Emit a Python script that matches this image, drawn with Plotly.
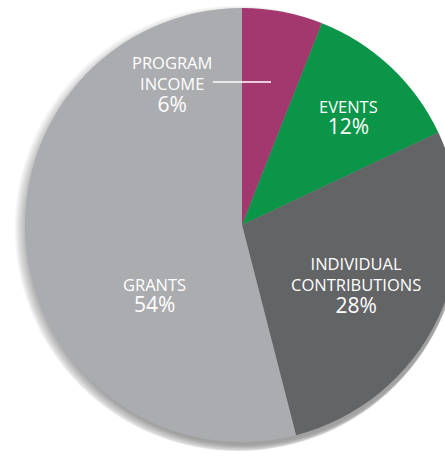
import plotly.graph_objects as go

labels = ["PROGRAM INCOME", "EVENTS", "INDIVIDUAL CONTRIBUTIONS", "GRANTS"]
values = [6, 12, 28, 54]
colors = ["#A3386F", "#0A9548", "#636466", "#ABACAF"]
label_text = ["PROGRAM<br>INCOME", "EVENTS", "INDIVIDUAL<br>CONTRIBUTIONS", "GRANTS"]
pct_text = ["6%", "12%", "28%", "54%"]

W, H = 460, 456
CX, CY, R = 242, 225, 217

def dom(cx, cy, r):
    return dict(x=[max(0, (cx - r) / W), min(1, (cx + r) / W)],
                y=[max(0, 1 - (cy + r) / H), min(1, 1 - (cy - r) / H)])

fig = go.Figure()

# soft drop shadow
for k in range(12):
    fig.add_trace(go.Pie(values=[1], marker=dict(colors=["rgba(0,0,0,0.036)"]),
                         domain=dom(CX + 2, CY + 5, R - 2 + 1.3 * k),
                         textinfo="none", hoverinfo="skip", showlegend=False, sort=False))

fig.add_trace(go.Pie(labels=labels, values=values, marker=dict(colors=colors, line=dict(width=0)),
                     sort=False, direction="clockwise", rotation=0, textinfo="none",
                     domain=dom(CX, CY, R), showlegend=False))

font = "Open Sans"
# label block positions (pixel centres)
block_pos = [(172, 85), (348, 117.5), (356, 285), (154, 295)]
for lt, pt, (x, y) in zip(label_text, pct_text, block_pos):
    txt = f"{lt}<br><span style='font-size:21px'>{pt}</span>"
    fig.add_annotation(x=x / W, y=1 - y / H, xref="paper", yref="paper", text=txt, showarrow=False,
                       font=dict(family=font, size=16.5, color="white"), xanchor="center",
                       yanchor="middle", align="center")

fig.add_shape(type="line", xref="paper", yref="paper", x0=213 / W, x1=271 / W,
              y0=1 - 82 / H, y1=1 - 82 / H, line=dict(color="white", width=1.5))

fig.update_layout(width=W, height=H, margin=dict(l=0, r=0, t=0, b=0),
                  paper_bgcolor="white", plot_bgcolor="white")

fig.write_html("out.html", config={"displayModeBar": False},
               post_script="document.documentElement.style.overflow='hidden';document.body.style.overflow='hidden';document.body.style.margin='0';")
